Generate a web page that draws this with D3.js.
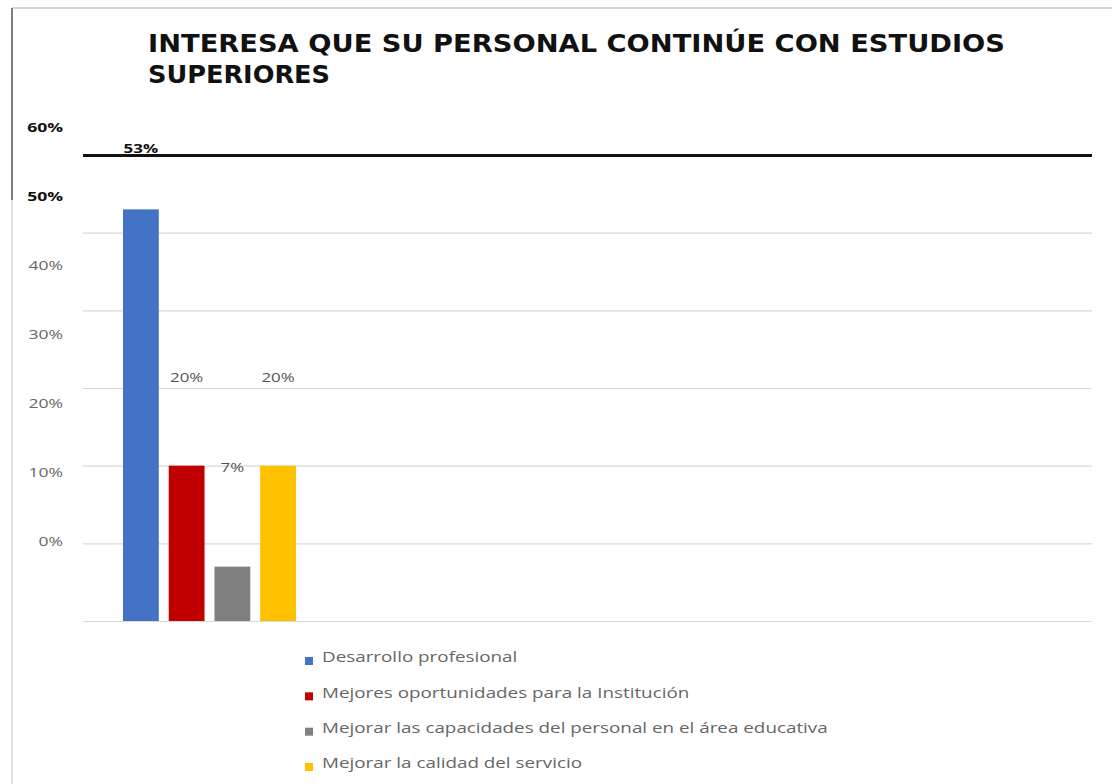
<!DOCTYPE html>
<html><head><meta charset="utf-8">
<script src="https://cdn.jsdelivr.net/npm/d3@7"></script>
<style>
html,body{margin:0;padding:0;background:#fff;}
svg{display:block;}
</style></head>
<body>
<svg id="chart" width="1112" height="784"></svg>
<script>
const titleLines = ["INTERESA QUE SU PERSONAL CONTINÚE CON ESTUDIOS", "SUPERIORES"];
const categories = [
  "Desarrollo profesional",
  "Mejores oportunidades para la Institución",
  "Mejorar las capacidades del personal en el área educativa",
  "Mejorar la calidad del servicio"
];
const values = [0.53, 0.20, 0.07, 0.20];
const valueLabels = ["53%", "20%", "7%", "20%"];
const colors = ["#4472C4", "#C00000", "#808080", "#FFC000"];
const tickValues = [0, 0.1, 0.2, 0.3, 0.4, 0.5, 0.6];
const tickLabels = ["0%", "10%", "20%", "30%", "40%", "50%", "60%"];

const svg = d3.select("#chart");
const plotL = 83, plotR = 1092;

// frame
svg.append("line").attr("x1", 12).attr("x2", 1112).attr("y1", 8).attr("y2", 8)
  .attr("stroke", "#c8c8c8").attr("stroke-width", 1.5);
svg.append("line").attr("x1", 12).attr("x2", 12).attr("y1", 8).attr("y2", 200)
  .attr("stroke", "#555").attr("stroke-width", 1.5);
svg.append("line").attr("x1", 12).attr("x2", 12).attr("y1", 200).attr("y2", 784)
  .attr("stroke", "#d8d8d8").attr("stroke-width", 1.5);

// title
const tl = svg.append("g").attr("font-family", "DejaVu Sans").attr("font-weight", "bold")
  .attr("font-size", 25).attr("fill", "#111");
tl.append("text").attr("x", 148).attr("y", 52).attr("textLength", 857)
  .attr("lengthAdjust", "spacingAndGlyphs").text(titleLines[0]);
tl.append("text").attr("x", 148).attr("y", 83).attr("textLength", 182)
  .attr("lengthAdjust", "spacingAndGlyphs").text(titleLines[1]);

// scales
const y = d3.scaleLinear().domain([0, 0.6]).range([621, 155]);
const x = d3.scaleBand().domain(categories).range([123, 296]).paddingInner(0.217).paddingOuter(0);
const yTickLabel = d3.scaleLinear().domain([0, 0.6]).range([541, 127]);
const yDataLabel = d3.scaleLinear().domain([0, 0.6]).range([516, 100]);

// gridlines
const grid = svg.append("g").attr("transform", `translate(${plotL},0)`)
  .call(d3.axisLeft(y).tickValues(tickValues).tickSize(-(plotR - plotL)).tickFormat(""));
grid.select(".domain").remove();
grid.selectAll(".tick line")
  .attr("stroke", d => d >= 0.6 ? "#111" : "#d9d9d9")
  .attr("stroke-width", d => d >= 0.6 ? 3 : 1.2);

// tick labels
const yl = svg.append("g").attr("transform", "translate(63,0)")
  .call(d3.axisLeft(yTickLabel).tickValues(tickValues).tickSize(0).tickPadding(0)
    .tickFormat((d, i) => tickLabels[i]));
yl.select(".domain").remove();
yl.selectAll(".tick text")
  .attr("font-family", "Open Sans").attr("font-size", 13)
  .attr("fill", d => d >= 0.5 ? "#111" : "#666")
  .attr("font-weight", d => d >= 0.5 ? "bold" : "normal")
  .attr("dy", "0.35em")
  .each(function () {
    const n = this.getComputedTextLength();
    d3.select(this).attr("textLength", n * 1.35).attr("lengthAdjust", "spacingAndGlyphs");
  });

// bars
svg.append("g").selectAll("rect").data(values).join("rect")
  .attr("x", (d, i) => x(categories[i]))
  .attr("y", d => y(d))
  .attr("width", x.bandwidth())
  .attr("height", d => y(0) - y(d))
  .attr("fill", (d, i) => colors[i]);

// data labels
svg.append("g").selectAll("text").data(values).join("text")
  .attr("x", (d, i) => x(categories[i]) + x.bandwidth() / 2)
  .attr("y", d => yDataLabel(d))
  .attr("dy", "0.35em")
  .attr("text-anchor", "middle")
  .attr("font-family", "Open Sans").attr("font-size", 13)
  .attr("fill", (d, i) => i === 0 ? "#111" : "#555")
  .attr("font-weight", (d, i) => i === 0 ? "bold" : "normal")
  .text((d, i) => valueLabels[i])
  .each(function () {
    const n = this.getComputedTextLength();
    d3.select(this).attr("textLength", n * 1.3).attr("lengthAdjust", "spacingAndGlyphs");
  });

// legend
const ly = d3.scalePoint().domain(categories).range([658, 764]);
const lg = svg.append("g").selectAll("g").data(categories).join("g")
  .attr("transform", d => `translate(305,${ly(d)})`);
lg.append("rect").attr("x", 0).attr("y", -1).attr("width", 8).attr("height", 8)
  .attr("fill", (d, i) => colors[i]);
lg.append("text").attr("x", 17).attr("y", -1).attr("dy", "0.35em")
  .attr("font-family", "Open Sans").attr("font-size", 15).attr("fill", "#666")
  .text(d => d)
  .each(function () {
    const n = this.getComputedTextLength();
    d3.select(this).attr("textLength", n * 1.255).attr("lengthAdjust", "spacingAndGlyphs");
  });
</script>
</body></html>
